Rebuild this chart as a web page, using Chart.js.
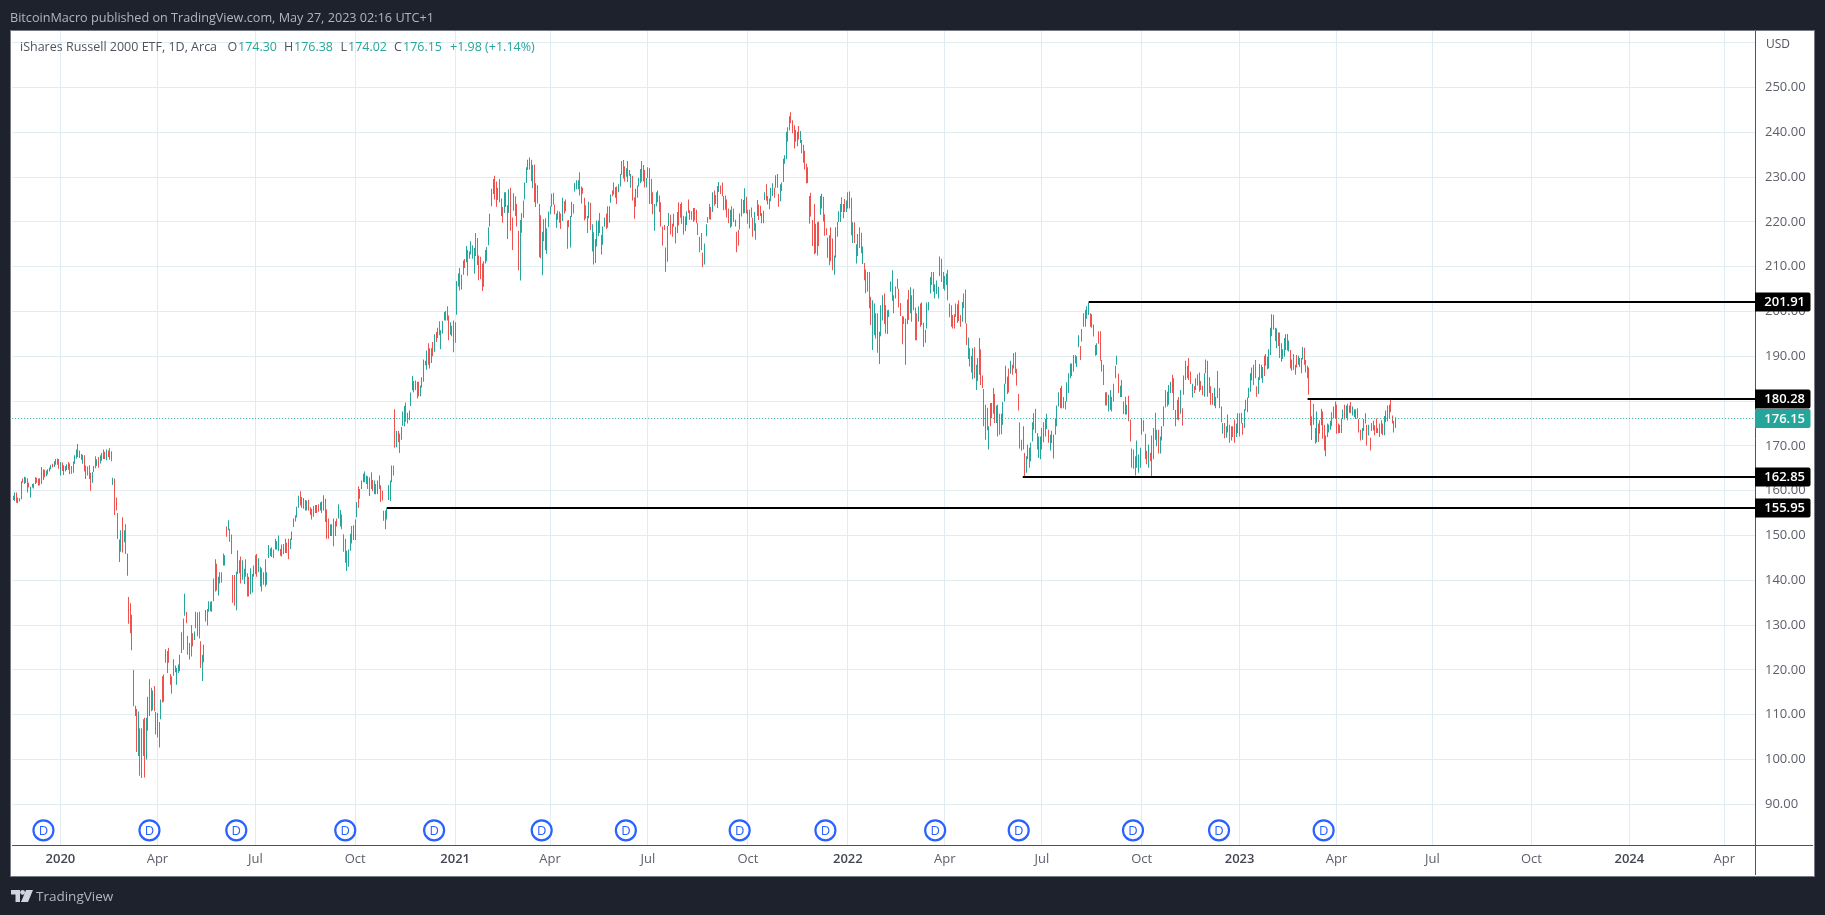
<!DOCTYPE html>
<html><head><meta charset="utf-8">
<script src="https://cdn.jsdelivr.net/npm/chart.js@4"></script>
<style>
html,body{margin:0;padding:0;background:#1e222d;width:1825px;height:915px;overflow:hidden}
#frame{position:absolute;left:10px;top:30px;width:1803px;height:845px;background:#fff;border:1px solid #787b86;border-width:1px 1px 1px 1px}
canvas{position:absolute;left:0;top:0}
.t{position:absolute;white-space:nowrap;font-family:"Open Sans",sans-serif;font-size:12.5px;line-height:16px}
.g{color:#50535e}.v{color:#26a69a}
.ln{position:absolute;background:#50535e}
</style></head><body>
<div id="frame"></div>
<canvas id="c" width="1825" height="915"></canvas>
<div class="ln" style="left:1755px;top:845px;width:1px;height:30px"></div>
<div class="ln" style="left:1755px;top:845px;width:58px;height:1px"></div>
<div class="t" style="left:10px;top:9px;color:#b2b5be;font-size:12.65px">BitcoinMacro published on TradingView.com, May 27, 2023 02:16 UTC+1</div>
<div class="t g" style="left:20px;top:39px">iShares Russell 2000 ETF, 1D, Arca</div>
<div class="t g" style="left:227.5px;top:39px">O</div><div class="t v" style="left:238px;top:39px">174.30</div>
<div class="t g" style="left:284px;top:39px">H</div><div class="t v" style="left:294px;top:39px">176.38</div>
<div class="t g" style="left:340.5px;top:39px">L</div><div class="t v" style="left:348px;top:39px">174.02</div>
<div class="t g" style="left:394px;top:39px">C</div><div class="t v" style="left:403px;top:39px">176.15</div>
<div class="t v" style="left:450px;top:39px">+1.98 (+1.14%)</div>
<div class="t g" style="left:1766px;top:36px;font-size:12px">USD</div>
<svg style="position:absolute;left:11px;top:890px" width="22" height="12" viewBox="0 0 22 12"><path d="M0 0H9V12H4.5V4.5H0Z M15 0H22L17 12H10Z" fill="#d1d4dc"/><circle cx="11.6" cy="2.4" r="2.4" fill="#d1d4dc"/></svg>
<div class="t" style="left:36px;top:887px;color:#b2b5be;font-size:13.5px;line-height:18px">TradingView</div>
<script>
// Axis ticks
const xTickPos=[30.3,92.5,155.3,219.4,283.5,344.4,407.2,471.3,535.4,597.6,659.8,723.9,786.7,848.9,910.4,973.9,1036.7,1097.6];
const xTickLabels=["2020","Apr","Jul","Oct","2021","Apr","Jul","Oct","2022","Apr","Jul","Oct","2023","Apr","Jul","Oct","2024","Apr"];
const yTickValues=[90,100,110,120,130,140,150,160,170,180,190,200,210,220,230,240,250,260];
// Daily ranges, read as pairs: low,high = rising day (teal); high,low = falling day (red)
const late2019=[158.9,157.9,157.7,159.6,159.6,157.3,158.5,157.2,158.3,157.6,158.1,162.1,162.7,161.8,161.5,163.1,163,161.7,162.8,159.6,161.8,160.7,158.5,160.9,160.7,161.5,161.6,160.5,161.5,163,162.9,161.8,162.7,161.1,161.2,162.8,161.5,165.3,164.8,162.4,164.7,163,163.2,164.5,164.8,163.6,164.3,165.2,164.8,165.8,166,165.2,165.3,166.6,165.8,167.1,167.2,165.8,167.1,164.9];
const q1y2020=[163.4,166.4,166.3,164.4,163.5,165.7,165.5,164.3,164.6,165.9,166.4,164.7,166.1,163.7,165.5,163.8,164,166.5,166,167.9,167.2,169.2,170.4,167.5,169,167.3,168.2,166.9,166,168,167.9,164.3,162.6,165.6,165.4,163.4,165.7,162.6,164,160,161.8,164.2,164.2,165.5,167.7,165,165.5,167,167.5,165.1,166.1,167.9,166.7,168.4,167.1,169.2,168.7,167.1,166.8,169.2,169,167.5,166.9,169.5,168.8,166.6,161.3,162.9,162.7,154.6,158.5,155.6,155,149.2,144.1,149.1,146.4,151.2,154.1,146.2,148.5,151.2,152.5,145.9,141,146,136.3,130.3,134.9,128.2,132.3,124.4,120,111.9,109.7,112,111.3,101.7,100.8,110.7,107,96.4,95.9,107,109,100.8,109.3,96,100,109.3,106.4,114,109.7,117.9,110.8,116,111,115.4,116.4,110.8,110.6,105.6];
const q2y2020=[104.9,110.4,108.4,102.7,109,113.4,118.6,112.7,112.9,119,121.6,124.6,124.2,119.3,124.9,121.6,119.1,116.7,118.6,114.7,118.7,122.4,119.5,121,116.7,120.4,119.3,121.2,119.7,123.4,123.8,128.4,131.5,124.5,132.1,137,133,130.4,127.6,123.4,122.3,126,130,123,128.2,125.3,126.7,128.6,129.3,133,127.5,132.8,133,127,126.4,120.4,117.5,123.4,121.7,125.6,130.8,133.4,133.6,129.9,133,135.3,133.1,135.2,133,135.3,140.4,135.3,144.7,137.5,143.7,137.7,136.6,140.8,139.3,141.8,139.5,141.8,143.3,146,143.3,145.6,152,149.7,151.2,153.4,151.5,148.6,150.2,145.9,141.2,135,141.2,134.3,133.3,141.9,146.7,141.4,141.6,144.5,145.3,139.3,140.1,144.5,139.2,142.6,144.7,140.8,141.6,136.4,140.8,136.4,136.9,142.7,137.3,141.4,140.8,143.3];
const q3y2020=[145.6,141.4,145.9,140.8,141.8,144.9,138.6,143,142.7,137.5,139,141.8,144.7,138.6,139,141.8,145,147.9,145.4,147.1,147.4,145.2,146.9,145,146.9,149.3,146.9,148.8,146.5,150,147,145.5,145.3,148,148.1,145.9,146.1,149.3,148.4,146.1,149.3,144.7,147,149.3,149,150.9,151.9,153.8,154.5,153.1,154,156.4,156.2,158.9,159.9,156.7,156.2,158.6,156,158.4,155.6,157.9,155.6,157.8,158,155.6,156.3,154.6,156,153.6,154.2,156.6,155,156.8,156.8,155,157,155.3,155.6,157.4,155,157.6,155.6,159,158.2,153,155.8,149.3,153.8,149.3,149.9,152.5,152.5,149.9,153.8,147.6,149.9,153.2,153.8,152,153.8,157,152,155.7,154.7,151.4,150.3,146.4,149.3,143.9,142.1,146.6,143,146.9,146.6,150.4,152.1,148.2,149,152.3];
const q4y2020=[149,153.6,154.1,157.5,161,156.2,158.2,160.4,160.4,162.3,161.9,163.8,161.9,164.3,161.5,163.4,163.2,160.4,158.8,163,164.1,160.4,162.4,159.9,159.2,162.3,161.5,159.2,162.3,159.2,160.4,163.4,161.2,157.5,160,157.8,155.5,153.3,155.6,151.4,153.6,156.2,157.9,161.2,157.7,162.3,161.9,165.6,165.6,163.4,178.2,169.6,169.7,173.3,173.4,170.8,172.7,168.4,171.4,174.2,174.5,177.7,174.4,178.9,179.7,175.4,175,177.4,175.8,177.9,178.9,181.9,182.4,185.6,182,184.5,182.5,184.6,184.3,180.6,184.3,181.1,181.1,183.5,183,185.3,184.3,189.3,188,189,187,191.3,192.9,188.1,187.3,191.8,188.5,191.8,193.2,190,191,194.9,195.4,193.2,194.1,196.4,197.8,194.7,191.6,195.8,195.1,197.9,198,199.9,200.1,198,201.2,198,199.1,193.6,194.8,197.6,196.8,194.5,198,190.9];
const q1y2021=[193,197.6,199.3,206.8,205.6,208.5,209.7,204.7,204.9,208.2,208.2,211.4,211.7,209.7,211,214.6,213.7,208,211.8,213.4,212.7,215.7,211.8,214.8,208.4,214.2,217.5,212.4,216.4,210.4,212.5,207,212.2,207.2,210.7,204.6,205.5,211.2,210.7,213.7,211.2,214.4,214.8,218.8,219,221.8,223.5,227.4,226.2,229.6,230.3,225,229,223.4,224.9,227.6,229.6,224.4,221.3,225.2,223.3,219.8,222,226.6,223.3,226.6,216.2,223.7,222,227.3,227.6,218,221,213.7,222.5,226.4,225.7,221.3,224,219,218,209.2,206.9,220.4,222,217.6,220.9,224.8,225,228.8,228.7,232.2,231.6,233.9,231.7,234.4,233.9,229.1,227.5,232.7,232.8,224.4,223.3,228.6,228.2,224.1,224,212.1,221.5,211.9,208.1,217.8,220.6,215.7,213.7,220.8,212.9,218.6,218.8,222.3];
const q2y2021=[221.7,223.5,226.3,223.4,226.5,223.8,223.9,221.7,218.7,221.9,220.5,222.5,222.3,219.8,221.9,218.4,220.2,225.4,224.6,221.9,225,222.4,220.3,214,220.4,218.8,214.3,221.3,221.1,224.5,224,221.9,226.8,228.7,227.3,229.3,227.3,229.3,231.1,225.9,227.9,224.1,227.6,226.3,225.4,220.3,223.7,220.7,221.3,217.5,220.8,224.5,224.3,218.2,213.4,219.5,217.7,210.5,210.8,216.2,214.5,220.3,216.8,220.3,222,217.5,212.7,217.1,214.9,219,218.9,221,221.9,218.4,223.5,218.7,219.8,223.5,224.3,226.1,227,225.7,226.1,228.8,225.4,227.8,227.9,224,226.6,228.4,227.9,230.7,230.5,233.6,233.8,229.7,232.4,229,230.1,232,233.6,228.9,231.6,230.3,227.6,230.7,230.3,224.8,225.5,220.7,223.4,227.4,225.4,228.1,227.9,229.8,228.6,231.8,233.6,229,232.7,229,231.6,227.7,227.7,229.8];
const q3y2021=[229.8,232.2,232,224,229.6,224,226.6,221.7,218,224,223.5,226.6,224.4,227,225.9,222.2,224.4,219,219,214.7,219.3,218.2,208.9,214.3,211.1,219.1,219.1,222,221.6,217.2,219.6,216.7,221.8,218.9,218.9,215.2,217.5,222.2,224.4,219.2,224,220.9,224.4,219.6,217.2,221.4,221.2,217.9,219.3,222.4,225,222,220.5,222.6,222.4,220.5,220,223.1,223.1,220.3,222.7,219.7,219.7,217.1,216.7,213.2,217.5,213.7,213.1,209.9,210.5,215.2,216.8,219.5,219.8,221.1,220.6,224,223.3,220.5,222.2,226.6,227,223.6,224,226,223.1,228,226.7,228.9,228.1,226.2,228.8,225.7,225.8,222.6,222.7,225.9,225,221,223,219.7,218.7,222.7,223.5,219,223,220,219,220.5,217.8,213.2,218.2,214.7,218.3,221.9,221.2,225.1,221.9,224.9,222,227.5,225.6,221.9];
const q4y2021=[222.7,219.6,222.7,218.5,221,223.2,220.9,216.7,218,222.2,216,219.7,221.3,224.9,223.9,220.4,223.6,221.3,219.7,222,219.7,222.5,224.9,226.6,228.4,224.7,223.9,225.8,225.2,222.8,224.6,227.6,225.8,228.6,227.6,225.4,227.6,230.4,230.7,227.6,226.2,223.4,224.6,228.4,226.9,228.8,228.9,234.1,233,234.9,234,240.1,241.1,237.9,240.4,243.6,244.5,242,242.7,239.8,241.6,236.4,237.9,240.5,236.9,240.1,241.4,238.4,237.6,240.3,238.3,235.3,237.2,233.2,235.9,231.7,233,228.6,228.6,232.2,225.8,219.6,226.5,221.2,220.4,214.6,224,212.8,213,219.6,219.9,212.5,220.1,214.6,221.6,225.8,223,226.3,225.6,220.1,221.7,216.9,218.6,217.1,212,216.5,210.3,217,218.8,211.2,216.3,209.2,208.2,212.5,212,218.8,216.7,220,220,222.4,220,224,225.5,222.2,220.8,224,225.1,222.2,222.2,224.8];
const q1y2022=[223,226.6,226.8,223,225.4,217,215.3,219.9,219.9,215.3,210.7,215,212.4,217.3,218.8,214.2,217.6,213,210.6,214.5,210.8,207,209.4,204.1,208.8,204.4,208.8,200.7,203.3,197,191.4,202.5,194.7,201.8,199.6,194,199.6,190.8,188.3,195.5,194.5,201.4,198,203.6,204,197.2,201.4,195.1,195,200.3,198.8,200.4,204.4,206.7,202.4,209.2,203.6,199.6,202.9,205.6,205.1,207.3,205.1,200.9,201.9,199,199,192.7,198.9,197.2,188.1,198.4,197.2,202.7,204.8,198.1,199.6,205.4,203.6,197.7,205.1,200.3,200.9,193.6,199.6,193.6,197.7,201.2,201.8,196.6,197,202,197.5,192.1,193,195.9,196.2,202,200.2,202.1,204,207.7,208.8,205.9,204.4,208.8,202.9,206.1,203.9,206.9,202.9,205.5,207.9,212.3,211.8,206.6,208.8,205.1];
const q2y2022=[204.7,207.9,205.9,208.5,209.3,202.5,201.8,198.7,201.4,196.6,199.2,196.2,199.4,196.2,201.8,198.8,197.5,201.6,202.5,197.9,199.2,196.6,197.7,202.1,204,200.7,204.9,197.3,197.3,192.5,189.4,194.2,191.8,187.7,190.1,186.4,184.9,191.8,192,185.1,182.5,188.1,184.5,189.6,185.9,194.1,191.6,183.6,185.7,182.9,182.7,174.4,179.2,171.4,173.5,178.5,169.2,174.4,179.6,174.4,176.2,179.6,177.2,182.9,181.6,175.1,175.1,179,179.2,172.1,177.2,172.5,177.2,172.6,174.7,179.8,179.9,183.9,183.9,187.9,181.6,185.5,187.3,181.9,186.1,189,188.1,185.9,187.3,190.7,190.9,186.2,187.2,183.5,181.6,177.9,175.3,169.4,171.4,168.9,169.2,174.4,168.4,162.9,164,167.7,167,170.3,169.6,165.1,166.6,170.7,171,175.3,173.6,177.3,178.3,172.9,172.9,169.2,167.3,172.1,167,172.1];
const q3y2022=[169.2,174,175.3,170.8,172.1,176,173.8,177.2,173.6,170.7,169,172.5,173.4,170.6,167.2,172.5,176.2,172.5,174.4,179,178.8,182,182.9,178.4,178.4,183.4,178.4,180.9,180,178.1,179.9,184.2,181.8,186.2,185.1,188.4,185.6,188.4,186.6,190.3,190.3,188.4,187.6,190,192,194.7,192.3,189.2,193.3,196.1,199.6,196.6,196.6,200.4,198.4,201.2,199.2,202,199.6,196.6,196.4,199.4,197.1,194.4,192.5,190.1,190.3,192.9,195.6,192.8,195.6,189,186.6,189.2,188.1,183.6,182,179,182,179,177.7,181.4,178,182.5,181,177.7,179.9,183.9,185.1,187.9,188.1,190.1,186.1,181.8,180.9,183.4,184.7,180.9,179.9,177.1,177,181,177,179.2,181.2,175.5,175.9,171,169.4,165.1,169.2,164.9,167.7,163.4,165.1,171.2,164,168.1,165.1,169.6];
const q4y2022=[172.5,176.2,175.7,173.2,172.7,167,168.9,165.9,165.1,170.3,168.5,166.6,162.9,172.3,174,167,177.4,171.4,169.9,173.6,173.6,168.3,168.3,172.1,171.2,174.4,174.4,178.8,182.5,178.6,182.1,178.8,179.2,183.6,181.8,184.3,185.9,181.8,185.1,178,174.4,178,180.3,175.9,180.9,175.7,177.2,182.5,178.4,174.5,181.4,185.7,184.7,189,187.9,185.1,189.6,184.7,186.6,183.8,180.8,183.9,183.3,181.8,182.5,185.1,183.5,186,182.1,186.4,184.5,182.5,183.5,181.3,181,186.2,189.3,186.2,181,189,185.3,181.8,183.3,179.2,181.8,179.2,178.9,183,181,178.4,186.7,180.7,182.9,178.4,178.8,175.3,172.7,175.1,175.1,171.7,171.8,174.4,173,177,174.7,170.7,171.2,174.4,174.4,172,175.9,170.7,172,175,177.3,172.9];
const q1y2023=[177.3,172.1,175,177.4,175.1,172.5,174,178.2,180.3,177.9,177.5,180.8,180.7,183,182.1,186.2,184.6,187.5,188.1,183.6,189.2,185.1,183.3,181,181.6,185.3,184.7,188.3,185.1,188.1,184.1,187.6,190.1,185.6,187.9,190.5,189.9,187.1,187.3,191.6,190.3,196.4,194.5,199.4,195.9,199.3,196.4,193.4,191.8,196.2,195.3,192.3,195.3,189.6,188.8,192.9,189.4,191.6,189.9,194.1,191.4,194.9,191.3,195,191.1,193.5,191.4,187.3,186.8,189.3,190.5,187,185.9,188.1,190.3,187.5,188.1,190.1,187.6,189.6,186.2,189.6,189.3,192.1,191.9,188.1,189.2,186.4,187.9,185.1,187.5,181.4,180.7,174.5,171.3,176.6,179.4,174.7,170.5,174,170.8,177.7,175,170.9,172.7,175.7,174.6,178.3,177.7,171.6,174.7,169,167.7,172.3,175,172,173,174.8,173.6,175.6,177.5,174.4,176.2,178.8,179.9,176.1];
const q2y2023=[179.2,172.7,175,172.8,172.9,174.7,172.9,176,176,178.1,179.2,175.9,176.2,179,179.4,175.7,177.4,179,179.8,177.3,176.8,178.8,176.4,178.2,178.2,176,176.2,178.4,176,173,173.6,171.2,171.4,174,173.3,176,175,177.3,174.7,170.1,172.3,174.7,171.8,169,173.3,175.1,173.5,175.6,174.6,172.4,176.1,172.9,172.9,174,175,172,172.7,175.7,175,172.4,172.4,176.7,175.3,177.9,179,175.5,176.1,179.2,180.7,177.5,176.8,175,175.6,173,174.02,176.38];
const periods=[late2019,q1y2020,q2y2020,q3y2020,q4y2020,q1y2021,q2y2021,q3y2021,q4y2021,q1y2022,q2y2022,q3y2022,q4y2022,q1y2023,q2y2023];
const periodEdges=[0,30.3,92.5,155.3,219.4,283.5,344.4,407.2,471.3,535.4,597.6,659.8,723.9,786.7,848.9,887.7];
// Horizontal levels
const levelLabels=["201.91","180.28","162.85","155.95"];
const levelPrices=[202.12,180.48,163.06,156.15];
const levelStarts=[689.9,830.3,647.6,239.7];
const lastPrice=176.15;
const lastPriceRow=176.12;
// Dividend markers
const dividendBars=[19.4,87.4,143.1,213,270,339,393,466,521,591.4,645,718.3,773.5,840.6];
const dividendRow=84.2;

const UP='#26a69a',DOWN='#ef5350',FONT='"Open Sans",sans-serif';
const barData=[],barColors=[];
periods.forEach((p,k)=>{
  const n=p.length/2,step=(periodEdges[k+1]-periodEdges[k])/n;
  for(let j=0;j<n;j++){
    const a=p[2*j],b=p[2*j+1];
    barData.push({x:periodEdges[k]+j*step,y:[Math.min(a,b),Math.max(a,b)]});
    barColors.push(a<b?UP:DOWN);
  }
});
const X_MIN=-0.64,X_MAX=1117.3;
const datasets=[{type:'bar',data:barData,backgroundColor:barColors,barThickness:1,grouped:false,inflateAmount:0,borderWidth:0,order:3}];
datasets.push({type:'line',data:[{x:X_MIN,y:lastPriceRow},{x:X_MAX,y:lastPriceRow}],borderColor:UP,borderWidth:1,borderDash:[1,2],pointRadius:0,order:2});
levelPrices.forEach((v,i)=>datasets.push({type:'line',data:[{x:levelStarts[i],y:v},{x:X_MAX,y:v}],borderColor:'#000',borderWidth:2,pointRadius:0,order:1}));
datasets.push({type:'scatter',data:dividendBars.map(x=>({x,y:dividendRow})),pointRadius:10,pointBorderWidth:2.2,pointBorderColor:'#2962ff',pointBackgroundColor:'#fff',order:0});
const divIndex=datasets.length-1;

const overlay={id:'overlay',
 beforeDatasetDraw(ch,args){
  if(args.index===0){ // snap each candle to a whole pixel column, as the original renderer does
    ch.getDatasetMeta(0).data.forEach(el=>{el.x=Math.round(el.x-0.5)+0.5;});
  }
 },
 afterDraw(ch){
  const c=ch.ctx,y=ch.scales.y,right=ch.chartArea.right;
  const pts=ch.getDatasetMeta(divIndex).data;
  c.save();c.fillStyle='#2962ff';c.font='13px '+FONT;c.textAlign='center';c.textBaseline='middle';
  pts.forEach(p=>c.fillText('D',p.x,p.y+0.5));
  const tag=(v,txt,col)=>{const py=y.getPixelForValue(v);c.fillStyle=col;c.beginPath();c.roundRect(right,py-9.5,55.5,19,[0,2,2,0]);c.fill();
    c.fillStyle='#fff';c.font='600 13px '+FONT;c.textAlign='right';c.fillText(txt,1805,py+0.5);};
  levelPrices.forEach((v,i)=>tag(v,levelLabels[i],'#000'));
  tag(lastPriceRow,lastPrice.toFixed(2),UP);
  c.restore();
}};

new Chart(document.getElementById('c'),{
  type:'bar',
  data:{datasets},
  plugins:[overlay],
  options:{
    responsive:false,animation:false,devicePixelRatio:1,
    layout:{padding:{left:11,top:31,right:12,bottom:40}},
    plugins:{legend:{display:false},tooltip:{enabled:false},title:{display:false}},
    scales:{
      x:{type:'linear',min:X_MIN,max:X_MAX,offset:false,
        afterBuildTicks(a){a.ticks=xTickPos.map(v=>({value:v}));},
        afterFit(a){a.height=30;},
        grid:{color:'#e1ecf2',lineWidth:1,drawTicks:false,offset:false},
        border:{color:'#50535e',width:1},
        ticks:{autoSkip:false,maxRotation:0,padding:6,
          callback:(v)=>xTickLabels[xTickPos.indexOf(v)],
          color:(ctx)=>/^\d/.test(xTickLabels[ctx.index])?'#434651':'#5d606b',
          font:(ctx)=>({family:FONT,size:13,weight:/^\d/.test(xTickLabels[ctx.index])?'600':'400'})}
      },
      y:{type:'linear',position:'right',min:80.92,max:262.61,
        afterBuildTicks(a){a.ticks=yTickValues.map(v=>({value:v}));},
        afterFit(a){a.width=58;},
        grid:{color:'#e1ecf2',lineWidth:1,drawTicks:false},
        border:{color:'#50535e',width:1},
        ticks:{autoSkip:false,padding:10,color:'#5d606b',font:{family:FONT,size:13},
          callback:(v)=>v>=260?'':v.toFixed(2)}
      }
    }
  }
});
</script>
</body></html>
